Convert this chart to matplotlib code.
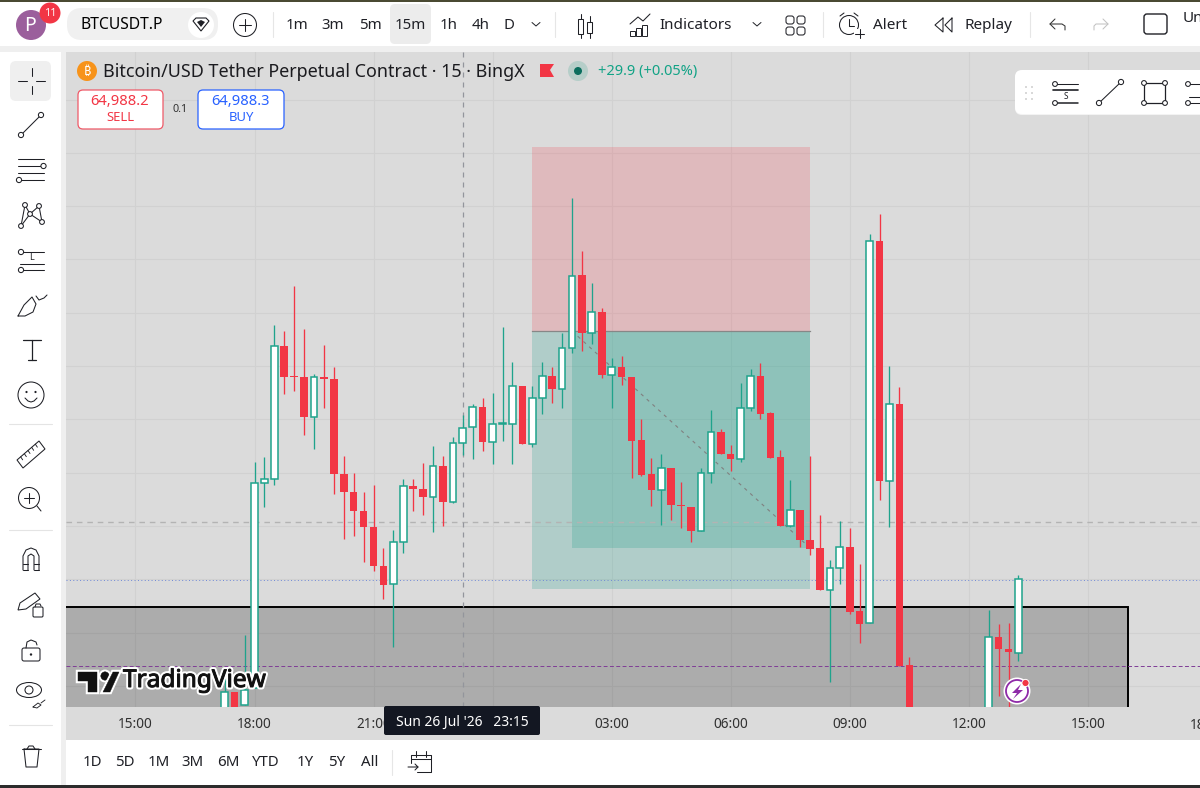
import matplotlib
matplotlib.use("Agg")
import matplotlib.pyplot as plt
import matplotlib.patches as mpatches
import matplotlib.patheffects as pe

plt.rcParams["font.family"] = ["Noto Sans", "DejaVu Sans"]

W, H = 1200, 788
BG = "#dbdbdb"
UP = "#1fa38c"
DOWN = "#f23645"
INK = "#1f2026"

# bar number counted from the 18:00 candle, one bar is 15 minutes
bars = list(range(-3, 67)) + [74, 75, 76, 77]
opens = [64448, 64540, 64488, 64556, 65376, 65392, 65924, 65804, 65800, 65640, 65800, 65792,
         65412, 65340, 65264, 65200, 65044, 64972, 65140, 65364, 65352, 65320, 65444, 65300,
         65536, 65600, 65680, 65540, 65612, 65612, 65764, 65532, 65716, 65804, 65752, 65916,
         66208, 65976, 66060, 65808, 65840, 65800, 65548, 65412, 65348, 65436, 65288, 65280,
         65184, 65416, 65580, 65492, 65472, 65676, 65804, 65656, 65480, 65204, 65268, 65148,
         65116, 64948, 65036, 65120, 64864, 64816, 66344, 65384, 65692, 64648,
         64428, 64760, 64712, 64696]
highs = [64636, 64540, 64768, 65460, 65480, 66008, 65984, 66164, 65992, 65812, 65928, 65840,
         65484, 65416, 65340, 65368, 65116, 65188, 65392, 65392, 65456, 65524, 65484, 65560,
         65648, 65692, 65716, 65736, 66000, 65860, 65764, 65764, 65860, 65840, 65976, 66516,
         66304, 66176, 66076, 65876, 65884, 65800, 65632, 65476, 65492, 65436, 65380, 65280,
         65436, 65668, 65592, 65528, 65776, 65832, 65856, 65660, 65508, 65388, 65268, 65484,
         65248, 65068, 65224, 65196, 65052, 66372, 66452, 65844, 65760, 64680,
         64868, 64812, 64816, 65008]
lows = [64428, 64400, 64488, 64556, 65280, 65368, 65732, 65744, 65568, 65512, 65676, 65332,
        65152, 65164, 65060, 65024, 64912, 64720, 65096, 65264, 65248, 65180, 65204, 65296,
        65488, 65472, 65504, 65452, 65544, 65452, 65532, 65520, 65652, 65696, 65676, 65896,
        65904, 65932, 65796, 65676, 65768, 65396, 65404, 65284, 65208, 65228, 65196, 65140,
        65184, 65376, 65492, 65424, 65460, 65664, 65632, 65476, 65204, 65200, 65120, 65088,
        64948, 64580, 64972, 64852, 64736, 64816, 65308, 65200, 64644, 64388,
        64428, 64524, 64428, 64664]
closes = [64540, 64428, 64548, 65376, 65392, 65924, 65800, 65800, 65640, 65800, 65792, 65412,
          65340, 65264, 65200, 65044, 64968, 65140, 65364, 65352, 65320, 65444, 65300, 65536,
          65596, 65680, 65540, 65612, 65616, 65764, 65532, 65716, 65804, 65752, 65916, 66204,
          65976, 66060, 65808, 65840, 65800, 65544, 65408, 65348, 65436, 65288, 65284, 65184,
          65416, 65580, 65492, 65472, 65676, 65804, 65652, 65476, 65204, 65268, 65148, 65112,
          64948, 65036, 65120, 64860, 64812, 66344, 65384, 65692, 64644, 64428,
          64760, 64712, 64700, 64992]

# the 00:00 label sits under the crosshair date in the reference
tick_bars = [-12, 0, 12, 24, 36, 48, 60, 72, 84]
tick_labels = ["15:00", "18:00", "21:00", "", "03:00", "06:00", "09:00", "12:00", "15:00"]
grid_prices = [66908, 66696, 66484, 66272, 66056, 65844, 65632, 65416, 65204, 64992, 64776, 64564]

# drawings on the chart
zone_top, zone_right = 64880, 88
stop_price, entry_price, target_price = 66720, 65984, 64952
tool_start, tool_fill_start, tool_end = 28, 32, 56
path_end_price = 65116
crosshair_bar, crosshair_price = 21, 65220
last_price, avg_price = 64988, 64646


def main():
    fig = plt.figure(figsize=(W / 100, H / 100), dpi=100, facecolor="white")

    back = fig.add_axes([0, 0, 1, 1], zorder=0)
    back.set_xlim(0, W)
    back.set_ylim(H, 0)
    back.axis("off")
    back.add_patch(mpatches.Rectangle((66, 700), W, 40, color=BG, lw=0))

    ax = fig.add_axes([66 / W, (H - 707) / H, (W - 66) / W, 655 / H], zorder=1)
    draw_chart(ax)

    ui = fig.add_axes([0, 0, 1, 1], zorder=2)
    ui.set_xlim(0, W)
    ui.set_ylim(H, 0)
    ui.axis("off")
    ui.patch.set_alpha(0)
    draw_panels(ui)
    draw_top_bar(ui)
    draw_legend(ui)
    draw_side_bar(ui)
    draw_bottom(ui)
    draw_overlays(ui)

    fig.savefig("out.png", dpi=100, facecolor="white")
    plt.close(fig)


def draw_chart(ax):
    ax.set_facecolor(BG)
    ax.set_xlim(-19.0, 95.3)
    ax.set_ylim(67308 - 4 * 707, 67308 - 4 * 52)
    ax.set_xticks(tick_bars)
    ax.set_xticklabels(tick_labels, fontsize=9.8, color="#303030")
    ax.set_yticks(grid_prices)
    ax.tick_params(axis="both", length=0, labelleft=False, pad=7.5)
    ax.grid(True, color="#d1d1d1", lw=0.75, zorder=0)
    ax.set_axisbelow(True)
    for spine in ax.spines.values():
        spine.set_visible(False)
    ax.text(96, -0.0165, "18:00", transform=ax.get_xaxis_transform(), ha="center", va="top",
            fontsize=9.8, color="#303030", clip_on=False)

    ax.add_patch(mpatches.Rectangle((-30, 64000), zone_right + 30, zone_top - 64000,
                                    facecolor=(0, 0, 0, 0.21), edgecolor="black", lw=1.4, zorder=1))

    ax.add_patch(mpatches.Rectangle((tool_start, entry_price), tool_end - tool_start, stop_price - entry_price,
                                    facecolor=DOWN, alpha=0.2, lw=0, zorder=1.2))
    ax.add_patch(mpatches.Rectangle((tool_start, target_price), tool_end - tool_start, entry_price - target_price,
                                    facecolor="#089981", alpha=0.2, lw=0, zorder=1.2))
    ax.add_patch(mpatches.Rectangle((tool_fill_start, path_end_price), tool_end - tool_fill_start,
                                    entry_price - path_end_price, facecolor="#089981", alpha=0.2, lw=0, zorder=1.3))
    ax.plot([tool_start, tool_end], [entry_price, entry_price], color="#878787", lw=0.9, zorder=1.4)
    ax.plot([tool_fill_start, tool_end], [entry_price, path_end_price], color="#808080", lw=0.8,
            ls=(0, (3, 4)), zorder=1.4)

    ax.axhline(crosshair_price, color="#b3b3b3", lw=1.0, ls=(0, (4, 3.5)), zorder=1.6)
    ax.axhline(last_price, color="#6d87d6", lw=0.7, ls=(0, (1, 2.5)), zorder=1.6)
    ax.axhline(avg_price, color="#7f3d96", lw=0.7, ls=(0, (4, 2.5)), zorder=1.6)
    ax.axvline(crosshair_bar, color="#93959c", lw=0.9, ls=(0, (4, 4)), zorder=1.6)

    for b, o, h, l, c in zip(bars, opens, highs, lows, closes):
        col = UP if c >= o else DOWN
        ax.plot([b, b], [l, h], color=col, lw=0.95, zorder=2, solid_capstyle="butt")
        low_body, size = min(o, c), max(abs(c - o), 4)
        if c >= o:
            ax.bar(b, size, 0.68, bottom=low_body, facecolor="white", edgecolor=col, lw=1.1, zorder=3)
        else:
            ax.bar(b, size, 0.76, bottom=low_body, facecolor=col, edgecolor="none", lw=0, zorder=3)


def line(ui, xs, ys, color=INK, lw=0.75, z=5):
    ui.plot(xs, ys, color=color, lw=lw, solid_capstyle="round", zorder=z)


def circ(ui, x, y, r, fc="none", ec=INK, lw=0.75, z=5):
    ui.add_patch(mpatches.Circle((x, y), r, facecolor=fc, edgecolor=ec, lw=lw, zorder=z))


def box(ui, x0, y0, x1, y1, fc="white", ec="none", lw=0, rad=4, z=3):
    ui.add_patch(mpatches.FancyBboxPatch((x0 + rad, y0 + rad), x1 - x0 - 2 * rad, y1 - y0 - 2 * rad,
                                         boxstyle=f"round,pad={rad},rounding_size={rad}",
                                         facecolor=fc, edgecolor=ec, lw=lw, zorder=z))


def rect(ui, x0, y0, x1, y1, color, z=1):
    ui.add_patch(mpatches.Rectangle((x0, y0), x1 - x0, y1 - y0, color=color, lw=0, zorder=z))


def label(ui, x, y, s, size=10.8, color=INK, ha="center", weight="medium", z=6):
    ui.text(x, y, s, fontsize=size, color=color, ha=ha, va="center", fontweight=weight, zorder=z)


def draw_panels(ui):
    rect(ui, 0, 0, W, 46, "white")
    rect(ui, 0, 46, W, 52, "#efefef")
    rect(ui, 0, 52, 61, 788, "white")
    rect(ui, 61, 52, 66, 788, "#efefef")
    rect(ui, 66, 740, W, 788, "white")
    rect(ui, 0, 0, W, 2, "#4a4a32", z=2)
    rect(ui, 0, 785, W, 788, "#2c2c2c", z=2)


def draw_top_bar(ui):
    circ(ui, 31, 25, 15, fc="#9b5f9c", ec="none", lw=0)
    label(ui, 30, 26, "P", size=14, color="white", weight="normal")
    circ(ui, 50, 13, 10.5, fc="#f23645", ec="none", lw=0, z=6)
    label(ui, 50, 13, "11", size=8, color="white", weight="bold", z=7)

    box(ui, 67, 8, 218, 40, fc="#f0f0f0", rad=15)
    label(ui, 81, 25, "BTCUSDT.P", size=11.3, ha="left", weight="semibold", color="black")
    circ(ui, 201, 25, 13, fc="white", ec="none", lw=0, z=4)
    ui.add_patch(mpatches.Polygon([(193, 21), (196, 18), (206, 18), (209, 21), (201, 31)], closed=True,
                                  fc="none", ec=INK, lw=0.8, zorder=5))
    ui.add_patch(mpatches.Polygon([(197, 22), (201, 20), (205, 22), (201, 27)], closed=True,
                                  fc=INK, ec="none", zorder=5))
    circ(ui, 245, 25, 11.5)
    line(ui, [239, 251], [25, 25])
    line(ui, [245, 245], [19, 31])

    box(ui, 390, 4, 431, 44, fc="#ececec", rad=5, z=2)
    for x, s in zip([297, 333, 370, 410, 449, 481, 509], ["1m", "3m", "5m", "15m", "1h", "4h", "D"]):
        label(ui, x, 25, s)
    chevron(ui, 536, 24)
    for x in [273, 555, 823, 1030]:
        line(ui, [x, x], [12, 37], color="#e6e6e6", lw=0.8)

    # candle icon
    ui.add_patch(mpatches.Rectangle((578, 19), 5, 15, fc="none", ec=INK, lw=0.75, zorder=5))
    ui.add_patch(mpatches.Rectangle((587, 22), 5, 11, fc="none", ec=INK, lw=0.75, zorder=5))
    line(ui, [580.5, 580.5], [14, 19])
    line(ui, [580.5, 580.5], [34, 38])
    line(ui, [589.5, 589.5], [16, 22])
    line(ui, [589.5, 589.5], [33, 38])

    # indicators
    line(ui, [630, 638, 643, 650], [24, 17, 21, 14])
    for x0, y0 in [(630, 31), (636, 28), (642, 25)]:
        ui.add_patch(mpatches.Rectangle((x0, y0), 5, 36 - y0, fc="none", ec=INK, lw=0.7, zorder=5))
    label(ui, 696, 25, "Indicators", size=11)
    chevron(ui, 757, 24)
    for x0, y0 in [(786, 16), (797, 16), (786, 27), (797, 27)]:
        box(ui, x0, y0, x0 + 8, y0 + 8, fc="none", ec=INK, lw=0.75, rad=2.5, z=5)

    # alert
    circ(ui, 849, 25, 9.5)
    line(ui, [849, 849, 854], [19, 26, 26])
    line(ui, [840, 844], [16, 13])
    line(ui, [858, 854], [16, 13])
    rect(ui, 854, 29, 866, 39, "white", z=5)
    line(ui, [855, 864], [34, 34], z=6)
    line(ui, [859.5, 859.5], [29, 38], z=6)
    label(ui, 890, 25, "Alert", size=11)

    # replay
    line(ui, [943, 935, 943, 943], [18, 25, 32, 18])
    line(ui, [952, 945, 952, 952], [18, 25, 32, 18])
    label(ui, 988, 25, "Replay", size=11)

    line(ui, [1050, 1062, 1065, 1065], [24, 24, 26, 30], color="#333333")
    line(ui, [1055, 1050, 1055], [19, 24, 29], color="#333333")
    line(ui, [1108, 1096, 1094, 1094], [24, 24, 26, 30], color="#c2c2c2")
    line(ui, [1103, 1108, 1103], [19, 24, 29], color="#c2c2c2")
    box(ui, 1144, 14, 1167, 34, fc="none", ec=INK, lw=1, rad=3, z=5)
    label(ui, 1183, 18, "Un", ha="left", size=11)


def chevron(ui, x, y):
    line(ui, [x - 4, x, x + 4], [y - 1.5, y + 2, y - 1.5], lw=0.7)


def draw_legend(ui):
    circ(ui, 87, 71, 10, fc="#f7931a", ec="none", lw=0)
    label(ui, 87, 71, "₿", size=9, color="white", weight="bold")
    label(ui, 103, 72, "Bitcoin/USD Tether Perpetual Contract · 15 · BingX", size=12.9, ha="left",
          color="#1b1b1f", weight="normal")
    ui.add_patch(mpatches.Polygon([(540, 64), (554, 64), (550, 70), (554, 77), (540, 77)], closed=True,
                                  fc="#f23645", ec="none", zorder=5))
    circ(ui, 578, 71, 10, fc="#b6cec9", ec="none", lw=0)
    circ(ui, 578, 71, 4, fc="#0b6e5e", ec="none", lw=0, z=6)
    label(ui, 598, 71, "+29.9 (+0.05%)", size=10.5, ha="left", color="#12a386")

    box(ui, 78, 90, 163, 129, fc="white", ec="#ef5a68", lw=0.9, rad=5)
    label(ui, 120, 101, "64,988.2", size=10.6, color="#f23645", weight="semibold")
    label(ui, 120, 117, "SELL", size=9.4, color="#f23645", weight="normal")
    label(ui, 180, 109, "0.1", size=7.8, color="#333333", weight="normal")
    box(ui, 198, 90, 284, 129, fc="white", ec="#2962ff", lw=0.9, rad=5)
    label(ui, 241, 101, "64,988.3", size=10.6, color="#2962ff", weight="semibold")
    label(ui, 241, 117, "BUY", size=9.4, color="#2962ff", weight="normal")


def line_tool(ui, x0, x1, y0, y1, lw=0.75):
    line(ui, [x0, x1], [y0, y1], lw=lw, z=6)
    circ(ui, x0, y0, 2.6, fc="white", z=7)
    circ(ui, x1, y1, 2.6, fc="white", z=7)


def draw_side_bar(ui):
    box(ui, 10, 61, 51, 101, fc="#efefef", rad=6, z=2)
    line(ui, [31.5, 31.5], [68, 76])
    line(ui, [31.5, 31.5], [86, 94])
    line(ui, [18, 27], [81, 81])
    line(ui, [36, 45], [81, 81])

    line_tool(ui, 21, 41, 135, 115)

    line(ui, [18, 44], [159, 159])
    line(ui, [18, 41], [166, 166])
    line(ui, [18, 44], [173, 173])
    line(ui, [21, 44], [180, 180])
    circ(ui, 43.5, 166, 2.6, fc="white", z=7)
    circ(ui, 19, 180, 2.6, fc="white", z=7)

    pts = [(21, 226), (25, 205), (30, 214), (39, 206), (42, 222)]
    line(ui, [p[0] for p in pts], [p[1] for p in pts], z=6)
    line(ui, [21, 30, 42], [226, 214, 222], z=6)
    for p in pts:
        circ(ui, p[0], p[1], 2.4, fc="white", z=7)

    line(ui, [22, 44], [252, 252])
    line(ui, [20, 44], [264, 264])
    line(ui, [22, 44], [270, 270])
    circ(ui, 21, 252, 2.6, fc="white", z=7)
    circ(ui, 21, 270, 2.6, fc="white", z=7)
    label(ui, 32, 258, "L", size=6.5, weight="bold")

    line(ui, [18, 24, 32, 36, 33, 25, 18], [316, 305, 297, 304, 312, 316, 316])
    line(ui, [36, 39, 44, 47], [296, 300, 298, 295])

    line(ui, [23, 41], [340, 340], lw=0.9)
    line(ui, [32, 32], [340, 360], lw=0.9)
    line(ui, [28, 36], [360, 360], lw=0.9)

    circ(ui, 31, 395, 13)
    circ(ui, 26.5, 392, 1.1, fc=INK, lw=0)
    circ(ui, 35.5, 392, 1.1, fc=INK, lw=0)
    line(ui, [25, 28, 31, 34, 37], [398, 401, 402, 401, 398])

    for y in [424, 530, 725]:
        line(ui, [9, 52], [y, y], color="#e4e4e4", lw=0.8)

    ui.add_patch(mpatches.Polygon([(17, 460), (39, 441), (45, 449), (23, 468)], closed=True,
                                  fc="white", ec=INK, lw=0.75, zorder=5))
    for t in range(1, 6):
        x = 17 + t * 22 / 6
        y = 460 - t * 19 / 6
        line(ui, [x, x + 2], [y, y + 3], lw=0.65, z=6)

    circ(ui, 29, 498, 10.5)
    line(ui, [37, 41], [506, 511])
    line(ui, [24, 34], [498, 498])
    line(ui, [29, 29], [493, 503])

    # magnet
    line(ui, [23, 23, 26, 31, 36, 39, 39], [570, 556, 550, 548, 550, 556, 570])
    line(ui, [28, 28, 31, 34, 34], [570, 556, 554, 556, 570])
    line(ui, [23, 28], [570, 570])
    line(ui, [34, 39], [570, 570])
    line(ui, [23, 28], [564, 564])
    line(ui, [34, 39], [564, 564])

    ui.add_patch(mpatches.Polygon([(18, 610), (20, 603), (35, 593), (40, 599), (26, 609)], closed=True,
                                  fc="white", ec=INK, lw=0.75, zorder=5))
    box(ui, 33, 607, 43, 617, fc="white", ec=INK, lw=0.75, rad=1.2, z=6)
    line(ui, [35, 36, 40, 41], [607, 604, 604, 606], z=6)

    box(ui, 22, 648, 40, 661, fc="none", ec=INK, lw=0.75, rad=2)
    line(ui, [26, 27, 31, 36, 37], [648, 642, 640, 642, 645])
    circ(ui, 31, 654.5, 1.2, fc=INK, lw=0)

    ui.add_patch(mpatches.Ellipse((29, 690), 25, 15, fc="none", ec=INK, lw=0.75, zorder=5))
    circ(ui, 29, 690, 4)
    line(ui, [33, 38, 41, 37, 33], [707, 703, 705, 708, 707], lw=0.65)
    line(ui, [41, 45], [703, 700], lw=0.65)

    line(ui, [22, 41], [749, 749])
    line(ui, [27, 29, 33, 35], [749, 746, 746, 749])
    line(ui, [24, 26, 37, 39, 24], [749, 767, 767, 749, 749])


def draw_bottom(ui):
    ranges = ["1D", "5D", "1M", "3M", "6M", "YTD", "1Y", "5Y", "All"]
    for x, s in zip([92, 125, 159, 193, 228, 266, 305, 337, 370], ranges):
        label(ui, x, 762, s, size=10.8)
    line(ui, [392, 392], [750, 775], color="#e6e6e6", lw=0.8)
    line(ui, [411, 411, 431, 431, 417], [763, 755, 755, 772, 772])
    line(ui, [411, 431], [759, 759])
    line(ui, [416, 416], [751, 757])
    line(ui, [426, 426], [751, 757])
    line(ui, [408, 418, 415], [767, 767, 764])
    line(ui, [418, 415], [767, 770])


def draw_overlays(ui):
    # crosshair date on the time scale
    box(ui, 384, 706, 540, 735, fc="#131722", rad=2, z=5)
    ui.text(462, 722, "Sun 26 Jul '26   23:15", fontsize=10, color="white", ha="center", va="center",
            fontweight="semibold", zorder=6)

    # watermark
    halo = [pe.withStroke(linewidth=3.2, foreground="white")]
    logo = [
        mpatches.Polygon([(78, 672), (97, 672), (97, 692), (88, 692), (88, 681), (78, 681)], closed=True),
        mpatches.Circle((105, 676), 4.2),
        mpatches.Polygon([(113, 672), (119, 672), (110, 692), (103, 692)], closed=True),
    ]
    for shape in logo:
        shape.set(facecolor="#111111", edgecolor="#111111", lw=0.3, zorder=5, path_effects=halo)
        ui.add_patch(shape)
    ui.text(123, 681, "TradingView", fontsize=17.6, color="#111111", fontweight="bold", ha="left", va="center",
            zorder=6, path_effects=[pe.Stroke(linewidth=3.6, foreground="white"),
                                    pe.Stroke(linewidth=0.7, foreground="#111111"), pe.Normal()])

    # flash icon
    circ(ui, 1017, 691, 13.5, fc="white", ec="none", lw=0, z=5)
    circ(ui, 1017, 691, 11, fc="white", ec="#8e2aa8", lw=1.3, z=6)
    ui.add_patch(mpatches.Polygon([(1021, 684), (1012, 693), (1017, 693), (1013, 699), (1023, 690), (1018, 690)],
                                  closed=True, fc="#8e2aa8", ec="none", zorder=7))
    circ(ui, 1025.5, 683, 3.6, fc="#f23645", ec="white", lw=0.7, z=8)

    # floating drawing toolbar
    box(ui, 1015, 71, 1240, 115, fc="#f3f3f3", rad=7, z=4)
    box(ui, 1015, 70, 1240, 114, fc="white", rad=7, z=5)
    for x in [1026, 1032]:
        for y in [87, 93, 99]:
            circ(ui, x, y, 0.9, fc="#c4c4c4", ec="none", lw=0, z=6)
    line(ui, [1055, 1078], [84, 84], z=6)
    line(ui, [1053, 1078], [90, 90], lw=1.2, z=6)
    line(ui, [1055, 1078], [103, 103], lw=1.1, z=6)
    circ(ui, 1055, 84, 2.4, fc="white", z=7)
    circ(ui, 1055, 103, 2.4, fc="white", z=7)
    label(ui, 1066, 96, "S", size=6)
    line_tool(ui, 1099, 1121, 103, 82)
    ui.add_patch(mpatches.Rectangle((1144, 83), 21, 20, fc="none", ec=INK, lw=0.9, zorder=6))
    for x in [1144, 1165]:
        for y in [83, 103]:
            circ(ui, x, y, 2.4, fc="white", z=7)
    line(ui, [1189, 1200], [84, 84], z=6)
    line(ui, [1189, 1200], [97, 97], z=6)
    line(ui, [1189, 1200], [103, 103], z=6)
    circ(ui, 1188, 84, 2.4, fc="white", z=7)
    circ(ui, 1188, 103, 2.4, fc="white", z=7)


main()
